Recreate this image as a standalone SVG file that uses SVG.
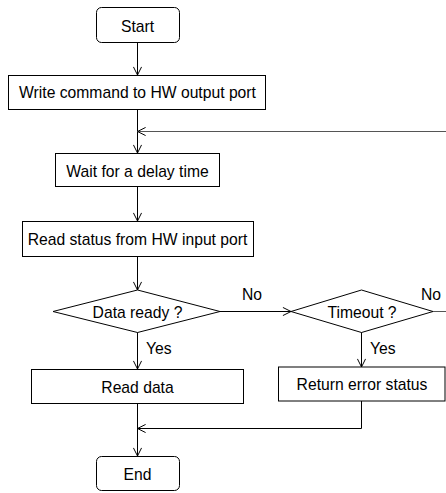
<svg xmlns="http://www.w3.org/2000/svg" width="446" height="493" viewBox="0 0 446 493">
  <style>
    .shape { fill: #ffffff; stroke: #000000; stroke-width: 1; }
    .label { font-family: "Liberation Sans", Arial, sans-serif; font-size: 15.7px; fill: #000000; text-anchor: middle; }
    .tag { font-family: "Liberation Sans", Arial, sans-serif; font-size: 15.7px; fill: #000000; }
    .link { fill: none; stroke: #000000; stroke-width: 1; }
    .loop { fill: none; stroke: #555555; stroke-width: 1; }
  </style>
  <defs>
    <marker id="arrow" viewBox="0 0 10 10" refX="10" refY="5" markerWidth="9" markerHeight="9" markerUnits="userSpaceOnUse" orient="auto">
      <path d="M1,0.5 L10,5 L1,9.5" fill="none" stroke="#000000" stroke-width="1.1"/>
    </marker>
  </defs>

  <rect width="446" height="493" fill="#ffffff"/>

  <!-- connectors -->
  <g id="connectors">
    <path class="link" d="M137.5,42.5 V75" marker-end="url(#arrow)"/>
    <path class="link" d="M137.5,109.5 V153" marker-end="url(#arrow)"/>
    <path class="loop" d="M433,311.5 H452 V131.5 H137.5" marker-end="url(#arrow)"/>
    <path class="link" d="M137.5,187 V221" marker-end="url(#arrow)"/>
    <path class="link" d="M137.5,257 V290" marker-end="url(#arrow)"/>
    <path class="link" d="M220,311.5 H291" marker-end="url(#arrow)"/>
    <path class="link" d="M137.5,332 V369" marker-end="url(#arrow)"/>
    <path class="link" d="M361.5,332 V367" marker-end="url(#arrow)"/>
    <path class="link" d="M137.5,403.5 V456" marker-end="url(#arrow)"/>
    <path class="link" d="M361.5,401 V428.5 H137.5" marker-end="url(#arrow)"/>
    <text class="tag" x="242" y="300">No</text>
    <text class="tag" x="421" y="300">No</text>
    <text class="tag" x="146" y="353.5">Yes</text>
    <text class="tag" x="370" y="353.5">Yes</text>
  </g>

  <g id="start">
    <rect class="shape" x="96.5" y="7.5" width="83" height="35" rx="5"/>
    <text class="label" x="137.5" y="32.3">Start</text>
  </g>

  <g id="write-command">
    <rect class="shape" x="8.5" y="75.5" width="257" height="34"/>
    <text class="label" x="137.5" y="98.3">Write command to HW output port</text>
  </g>

  <g id="wait-delay">
    <rect class="shape" x="55.5" y="153.5" width="164" height="33"/>
    <text class="label" x="137.5" y="176.5">Wait for a delay time</text>
  </g>

  <g id="read-status">
    <rect class="shape" x="22.5" y="221.5" width="231" height="35"/>
    <text class="label" x="137.5" y="244.5">Read status from HW input port</text>
  </g>

  <g id="data-ready">
    <polygon class="shape" points="53,311.5 137.5,290 220,311.5 137.5,332.5"/>
    <text class="label" x="137.5" y="317.5">Data ready ?</text>
  </g>

  <g id="timeout">
    <polygon class="shape" points="291,311.5 361.5,290 433,311.5 361.5,332.5"/>
    <text class="label" x="362" y="317.5">Timeout ?</text>
  </g>

  <g id="read-data">
    <rect class="shape" x="31.5" y="369.5" width="212" height="34"/>
    <text class="label" x="137.5" y="392.5">Read data</text>
  </g>

  <g id="return-error">
    <rect class="shape" x="278.5" y="367" width="166.5" height="34"/>
    <text class="label" x="362" y="390">Return error status</text>
  </g>

  <g id="end">
    <rect class="shape" x="96.5" y="456.5" width="83" height="34" rx="5"/>
    <text class="label" x="137.5" y="480">End</text>
  </g>
</svg>
